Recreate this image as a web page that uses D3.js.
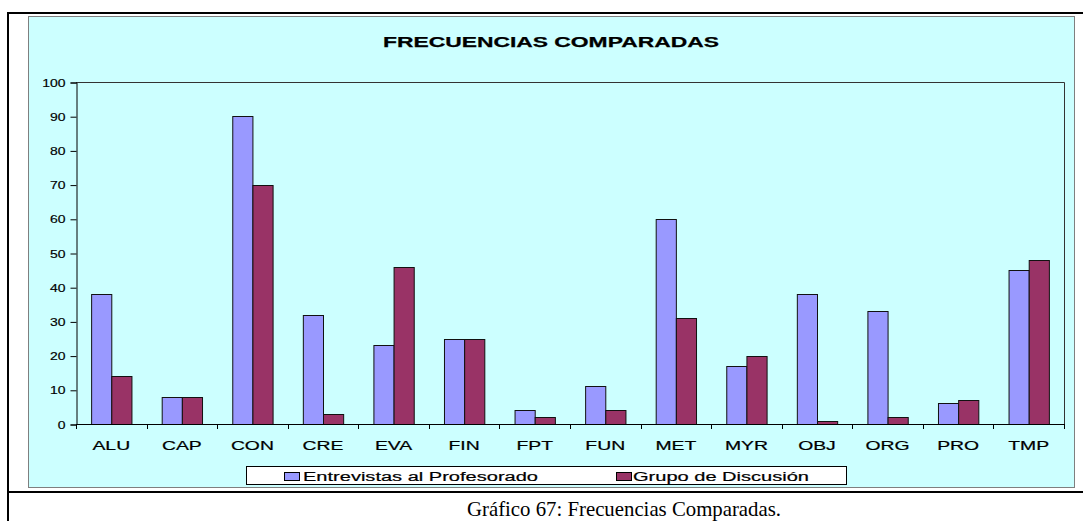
<!DOCTYPE html>
<html>
<head>
<meta charset="utf-8">
<script src="https://cdn.jsdelivr.net/npm/d3@7"></script>
<style>
  html, body { margin: 0; padding: 0; background: #ffffff; }
  svg { display: block; }
  .sans { font-family: "Liberation Sans", Arial, sans-serif; }
</style>
</head>
<body>
<svg id="chart" width="1083" height="521"></svg>
<script>
// Category codes along the x axis
const categories = ["ALU", "CAP", "CON", "CRE", "EVA", "FIN", "FPT", "FUN", "MET", "MYR", "OBJ", "ORG", "PRO", "TMP"];
// Frequencies per source
const entrevistas = [38, 8, 90, 32, 23, 25, 4, 11, 60, 17, 38, 33, 6, 45];
const grupo = [14, 8, 70, 3, 46, 25, 2, 4, 31, 20, 1, 2, 7, 48];
const seriesNames = ["Entrevistas al Profesorado", "Grupo de Discusión"];
const seriesColors = ["#9999FF", "#993366"];
const yTicks = [0, 10, 20, 30, 40, 50, 60, 70, 80, 90, 100];
const titleText = "FRECUENCIAS COMPARADAS";
const captionText = "Gráfico 67: Frecuencias Comparadas.";

const svg = d3.select("#chart");

// Widen a text element horizontally by a given factor
function stretch(sel, factor) {
  sel.each(function () {
    const w = this.getComputedTextLength();
    d3.select(this).attr("textLength", w * factor).attr("lengthAdjust", "spacingAndGlyphs");
  });
}

// Outer document table frame
const frame = svg.append("g").attr("fill", "none").attr("stroke", "#000").attr("stroke-width", 2);
frame.append("line").attr("x1", 8).attr("x2", 1090).attr("y1", 13).attr("y2", 13);
frame.append("line").attr("x1", 8).attr("x2", 8).attr("y1", 12).attr("y2", 530);
frame.append("line").attr("x1", 8).attr("x2", 1090).attr("y1", 492).attr("y2", 492);

// Chart area
svg.append("rect")
  .attr("x", 28.5).attr("y", 16.5).attr("width", 1046).attr("height", 471)
  .attr("fill", "#CCFFFF").attr("stroke", "#7f7f7f").attr("stroke-width", 1);

const plot = { left: 76, right: 1064, top: 82, bottom: 424 };

const x = d3.scaleBand()
  .domain(categories)
  .range([plot.left, plot.right])
  .paddingInner(1.5 / 3.5)
  .paddingOuter(0.75 / 3.5);

const xSub = d3.scaleBand().domain([0, 1]).range([0, x.bandwidth()]);

const y = d3.scaleLinear().domain([0, 100]).range([plot.bottom, plot.top]);

// Plot area border (top and right)
svg.append("path")
  .attr("d", `M${plot.left},${y(100) + 0.5}H${plot.right + 0.5}V${y(0)}`)
  .attr("fill", "none").attr("stroke", "#333").attr("stroke-width", 1);

// Bars
const rows = categories.map((c, i) => ({ c, vals: [entrevistas[i], grupo[i]] }));
const groups = svg.append("g").selectAll("g").data(rows).join("g")
  .attr("transform", d => `translate(${x(d.c)},0)`);
groups.selectAll("rect").data(d => d.vals.map((v, k) => ({ v, k }))).join("rect")
  .attr("x", d => xSub(d.k) + 0.5)
  .attr("y", d => Math.round(y(d.v)) + 0.5)
  .attr("width", xSub.bandwidth())
  .attr("height", d => Math.round(y(0)) - Math.round(y(d.v)))
  .attr("fill", d => seriesColors[d.k])
  .attr("stroke", "#111").attr("stroke-width", 1);

// Y axis
const yAxis = svg.append("g")
  .attr("class", "sans")
  .attr("transform", `translate(${plot.left + 0.5},0.5)`)
  .call(d3.axisLeft(y).tickValues(yTicks).tickSize(6).tickPadding(5));
yAxis.select(".domain").attr("stroke", "#000");
yAxis.selectAll(".tick line").attr("stroke", "#000");
yAxis.selectAll(".tick text")
  .attr("font-size", 10.5).attr("fill", "#000")
  .attr("dy", "0.35em")
  .attr("stroke", "#000").attr("stroke-width", 0.15)
  .call(stretch, 1.33);

// X axis: baseline and tick marks at category boundaries
const step = x.step();
const boundaries = categories.map(c => x(c) - (step - x.bandwidth()) / 2).concat([plot.right]);
svg.append("line")
  .attr("x1", plot.left).attr("x2", plot.right + 1)
  .attr("y1", Math.round(y(0)) + 0.5).attr("y2", Math.round(y(0)) + 0.5)
  .attr("stroke", "#000");
svg.append("g").selectAll("line").data(boundaries).join("line")
  .attr("x1", d => Math.round(d) + 0.5).attr("x2", d => Math.round(d) + 0.5)
  .attr("y1", y(0)).attr("y2", y(0) + 5)
  .attr("stroke", "#000");
svg.append("g").attr("class", "sans").selectAll("text").data(categories).join("text")
  .attr("x", d => x(d) + x.bandwidth() / 2)
  .attr("y", 450)
  .attr("text-anchor", "middle")
  .attr("font-size", 13)
  .attr("fill", "#000")
  .attr("stroke", "#000").attr("stroke-width", 0.2)
  .text(d => d)
  .call(stretch, 1.49);

// Title
svg.append("text")
  .attr("class", "sans")
  .attr("x", 551).attr("y", 46.5)
  .attr("text-anchor", "middle")
  .attr("font-size", 14.5).attr("font-weight", "bold")
  .attr("stroke", "#000").attr("stroke-width", 0.25)
  .text(titleText)
  .call(stretch, 1.575);

// Legend
const legend = svg.append("g").attr("class", "sans");
legend.append("rect")
  .attr("x", 246.5).attr("y", 466.5).attr("width", 600).attr("height", 18)
  .attr("fill", "#fff").attr("stroke", "#000");
const legendItems = [
  { name: seriesNames[0], color: seriesColors[0], sx: 284.5, tx: 303, w: 235 },
  { name: seriesNames[1], color: seriesColors[1], sx: 616.5, tx: 633, w: 176 }
];
legendItems.forEach(it => {
  legend.append("rect")
    .attr("x", it.sx).attr("y", 472.5).attr("width", 15).attr("height", 8)
    .attr("fill", it.color).attr("stroke", "#000");
  legend.append("text")
    .attr("x", it.tx).attr("y", 481)
    .attr("font-size", 12.5).attr("fill", "#000")
    .attr("stroke", "#000").attr("stroke-width", 0.2)
    .attr("textLength", it.w).attr("lengthAdjust", "spacingAndGlyphs")
    .text(it.name);
});

// Caption below the chart
svg.append("text")
  .attr("x", 467).attr("y", 516)
  .attr("font-family", "'Liberation Serif', 'DejaVu Serif', serif")
  .attr("font-size", 22).attr("fill", "#000")
  .attr("textLength", 314).attr("lengthAdjust", "spacingAndGlyphs")
  .text(captionText);
</script>
</body>
</html>
